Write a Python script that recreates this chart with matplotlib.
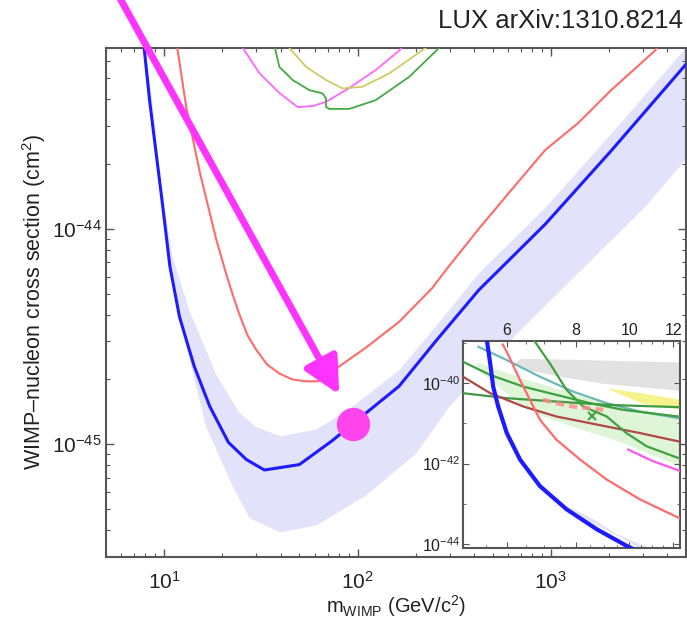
import matplotlib
matplotlib.use("Agg")
import matplotlib.pyplot as plt
from matplotlib.ticker import FixedLocator, FixedFormatter, NullFormatter, LogFormatterSciNotation

plt.rcParams['font.family'] = ['Liberation Sans', 'DejaVu Sans']
plt.rcParams['mathtext.fontset'] = 'custom'
plt.rcParams['mathtext.rm'] = 'Liberation Sans'
plt.rcParams['mathtext.it'] = 'Liberation Sans:italic'
plt.rcParams['mathtext.bf'] = 'Liberation Sans:bold'

# ---------------- main panel data (mass GeV, cross section cm^2) ----------------
lux_mass = [7.8, 8.4, 9.0, 9.7, 10.7, 12.0, 14.3, 17.2, 21.5, 26.6, 33, 50, 74, 95,
            164, 253, 424, 935, 2050, 5000]
lux_sigma = [7.5e-44, 3.95e-44, 2.4e-44, 1.4e-44, 6.7e-45, 3.9e-45, 2.3e-45, 1.5e-45,
             1.02e-45, 8.5e-46, 7.6e-46, 8.05e-46, 1.04e-45, 1.25e-45,
             1.86e-45, 3.0e-45, 5.2e-45, 1.05e-44, 2.3e-44, 5.8e-44]

band_up_mass = [7.8, 8.6, 9.5, 11, 13.6, 15.3, 18.6, 24.5, 30, 40, 61, 90, 164, 253,
                424, 935, 2050, 5000]
band_up_sigma = [8.2e-44, 4.2e-44, 1.75e-44, 7.5e-45, 4.1e-45, 3.2e-45, 2.1e-45, 1.4e-45,
                 1.2e-45, 1.09e-45, 1.17e-45, 1.45e-45, 2.2e-45, 3.5e-45,
                 6.2e-45, 1.25e-44, 2.75e-44, 6.9e-44]
band_lo_mass = [7.8, 8.4, 9.7, 10.7, 12, 13, 16.5, 22.6, 27.6, 40, 61, 111, 200, 300,
                680, 1390, 3070, 5000]
band_lo_sigma = [7.5e-44, 3.9e-44, 1.38e-44, 6.6e-45, 3.8e-45, 2.85e-45, 1.2e-45, 6.4e-46,
                 4.55e-46, 3.9e-46, 4.2e-46, 5.8e-46, 9.0e-46, 1.5e-45,
                 3.3e-45, 6.25e-45, 1.26e-44, 2.1e-44]

xe_mass = [11.4, 13.0, 15.3, 18.6, 20.9, 22.6, 24.5, 27.0, 29.9, 34.0, 39.4, 46.0, 54.2,
           62.0, 68.7, 80.4, 110, 164, 243, 285, 424, 627, 935, 1387, 2051, 3450, 3700]
xe_sigma = [8e-44, 3.68e-44, 1.82e-44, 8.9e-45, 6.2e-45, 4.95e-45, 4.0e-45, 3.2e-45,
            2.75e-45, 2.35e-45, 2.13e-45, 2.0e-45, 1.96e-45, 1.96e-45, 2.02e-45, 2.3e-45,
            2.8e-45, 3.7e-45, 5.3e-45, 6.4e-45, 1.0e-44, 1.52e-44, 2.32e-44, 3.1e-44,
            4.4e-44, 6.7e-44, 7.3e-44]

mag_mass = [24.5, 25.5, 31.1, 39.4, 49, 58.6, 68.7, 90.6, 124, 164, 175]
mag_sigma = [8e-44, 6.9e-44, 5.27e-44, 4.27e-44, 3.67e-44, 3.71e-44, 3.88e-44, 4.5e-44,
             5.45e-44, 6.7e-44, 7.2e-44]

grn_mass = [36, 39.4, 46.2, 56.3, 65.9, 68.7, 68.7, 71.4, 90.6, 124, 185, 264, 280]
grn_sigma = [8e-44, 5.64e-44, 4.9e-44, 4.4e-44, 4.25e-44, 4.03e-44, 3.68e-44, 3.6e-44,
             3.6e-44, 3.95e-44, 5.07e-44, 6.9e-44, 7.5e-44]

yel_mass = [43, 44.4, 54.2, 68.7, 83.6, 106, 146, 225, 240]
yel_sigma = [8e-44, 6.9e-44, 5.64e-44, 4.9e-44, 4.48e-44, 4.56e-44, 5.26e-44, 6.9e-44, 7.3e-44]

main_xticks = [10, 100, 1000]
main_yticks = [1e-45, 1e-44]

arrow_tip = (80.4, 1.7e-45)
dot_point = (94.6, 1.24e-45)

# ---------------- inset data (low mass) ----------------
in_lux_mass = [5.52, 5.60, 5.67, 5.79, 6.0, 6.34, 6.89, 7.70, 8.73, 9.88, 10.5]
in_lux_sigma = [1.2e-39, 3.06e-40, 8.1e-41, 2.6e-41, 5.73e-42, 1.26e-42, 2.75e-43, 7.3e-44,
                2.34e-44, 9.1e-45, 6e-45]
in_xe_mass = [5.9, 6.0, 6.34, 6.61, 6.89, 7.38, 8.14, 9.10, 10.45, 12.25, 12.5]
in_xe_sigma = [9e-40, 5.93e-40, 1.19e-40, 3.8e-41, 1.22e-41, 3.9e-42, 1.26e-42, 4.0e-43,
               1.29e-43, 4.56e-44, 4.1e-44]
in_teal_mass = [5.33, 6.0, 6.89, 7.91, 9.10, 10.45, 12.25]
in_teal_sigma = [7.9e-40, 3.7e-40, 1.43e-40, 6.1e-41, 3.15e-41, 1.95e-41, 1.34e-41]
in_g1_mass = [6.6, 6.75, 7.18, 7.70, 8.25, 9.10, 9.88, 10.75, 12.25, 12.5]
in_g1_sigma = [1.5e-39, 1.05e-39, 3.06e-40, 6.7e-41, 2.6e-41, 1.47e-41, 5.7e-42, 2.67e-42,
               1.38e-42, 1.25e-42]
in_g2_mass = [4.9, 5.0, 5.60, 6.43, 7.38, 8.49, 9.75, 12.25, 12.5]
in_g2_sigma = [3.8e-40, 3.36e-40, 1.58e-40, 8.1e-41, 5.06e-41, 3.15e-41, 2.15e-41, 1.47e-41,
               1.42e-41]
in_g3_mass = [4.9, 5.0, 6.0, 7.38, 9.10, 12.25, 12.5]
in_g3_sigma = [5.7e-41, 5.57e-41, 4.19e-41, 3.45e-41, 2.86e-41, 2.51e-41, 2.5e-41]
in_brown_mass = [4.9, 5.0, 5.60, 6.43, 7.38, 9.10, 10.45, 12.25, 12.5]
in_brown_sigma = [1.6e-40, 1.43e-40, 5.57e-41, 2.6e-41, 1.47e-41, 8.3e-42, 5.7e-42, 3.56e-42,
                  3.4e-42]
in_gband_mass = [5.3, 5.60, 6.43, 6.89, 7.91, 9.10, 9.75, 12.5]
in_gband_up = [3.3e-40, 2.52e-40, 1.3e-40, 9.8e-41, 5.5e-41, 3.15e-41, 2.6e-41, 1.4e-41]
in_gband_lo = [2.2e-40, 1.19e-40, 2.6e-41, 1.6e-41, 8.3e-42, 4.5e-42, 3.24e-42, 8.0e-43]
in_gray_mass = [6.2, 6.35, 7.0, 8.0, 8.85, 10.5, 12.5]
in_gray_up = [3.2e-40, 4.1e-40, 4.0e-40, 3.85e-40, 3.7e-40, 3.5e-40, 3.3e-40]
in_gray_lo = [3.2e-40, 2.3e-40, 1.75e-40, 1.25e-40, 1.0e-40, 8e-41, 6.5e-41]
in_yel_mass = [9.2, 10.5, 12.5]
in_yel_up = [7.4e-41, 5.7e-41, 3.8e-41]
in_yel_lo = [7.0e-41, 3.2e-41, 2.2e-41]
in_salmon_mass = [6.98, 7.5, 7.91, 8.97]
in_salmon_sigma = [3.8e-41, 3.0e-41, 2.6e-41, 2.15e-41]
in_mag_mass = [9.95, 11.04, 12.5]
in_mag_sigma = [2.22e-42, 1.14e-42, 6.2e-43]
in_x_point = (8.55, 1.53e-41)

in_xticks = [6, 8, 10, 12]
in_xticklabels = ['6', '8', '10', '12']
in_yticks = [1e-44, 1e-42, 1e-40]
in_yticklabels = [r'$10^{-44}$', r'$10^{-42}$', r'$10^{-40}$']

BLUE = '#1c1cff'
BAND = '#e2e2fa'
RED = '#ff6a6a'
SPINE = '#555555'

W, H = 687, 620
fig = plt.figure(figsize=(W / 100, H / 100), dpi=100)
ax = fig.add_axes([106 / W, 63 / H, 580 / W, 509 / H])

ax.set_xscale('log')
ax.set_yscale('log')

band_x = band_up_mass + band_lo_mass[::-1]
band_y = band_up_sigma + band_lo_sigma[::-1]
ax.fill(band_x, band_y, color=BAND, lw=0, zorder=1)
ax.plot(xe_mass, xe_sigma, color=RED, lw=1.5, zorder=3)
ax.plot(mag_mass, mag_sigma, color='#ff66ff', lw=1.3, zorder=3)
ax.plot(yel_mass, yel_sigma, color='#cfcc66', lw=1.3, zorder=3)
ax.plot(grn_mass, grn_sigma, color='#44aa44', lw=1.3, zorder=3)
ax.plot(lux_mass, lux_sigma, color=BLUE, lw=2.2, zorder=4)
ax.plot([dot_point[0]], [dot_point[1]], 'o', ms=24, color='#ff44ee', mec='none', zorder=6)

ax.set_xlim(5, 5000)
ax.set_ylim(3e-46, 6.9e-44)
ax.xaxis.set_major_locator(FixedLocator(main_xticks))
ax.yaxis.set_major_locator(FixedLocator(main_yticks))
ax.xaxis.set_major_formatter(LogFormatterSciNotation())
ax.yaxis.set_major_formatter(LogFormatterSciNotation())

ax.annotate('', xy=arrow_tip, xycoords='data', xytext=(0.1735, 1.005),
            textcoords='figure fraction', annotation_clip=False,
            arrowprops=dict(arrowstyle='-|>,head_length=1.1,head_width=0.55',
                            color='#ff33ff', lw=5, shrinkA=0, shrinkB=0,
                            mutation_scale=20), zorder=7)

for sp in ax.spines.values():
    sp.set_color(SPINE)
    sp.set_linewidth(1.5)
ax.tick_params(which='both', direction='in', top=True, right=True, colors=SPINE,
               labelcolor='#222222')
ax.tick_params(which='major', length=6, width=1)
ax.tick_params(which='minor', length=3, width=0.8, labelbottom=False, labelleft=False)
ax.tick_params(axis='x', which='major', labelsize=15, pad=10)
ax.tick_params(axis='y', which='major', labelsize=15, pad=3)
ax.xaxis.set_minor_formatter(NullFormatter())
ax.yaxis.set_minor_formatter(NullFormatter())

ax.set_xlabel(r'm$_{\rm WIMP}$ (GeV/c$^2$)', fontsize=14.5, color='#222222', labelpad=0)
ax.set_ylabel(r'WIMP–nucleon cross section (cm$^2$)', fontsize=15.5, color='#222222')
ax.yaxis.set_label_coords(-0.10, 0.5)

fig.text(683 / W, 1 - 21 / H, 'LUX arXiv:1310.8214', ha='right', va='center',
         fontsize=18.5, color='#222222')

# ---------------- inset ----------------
ins = fig.add_axes([463 / W, 72 / H, 217 / W, 207 / H])
ins.set_xscale('log')
ins.set_yscale('log')
ins.set_facecolor('white')
ins.fill_between(in_gray_mass, in_gray_lo, in_gray_up, color='#e2e2e2', lw=0, zorder=1)
ins.fill_between(in_yel_mass, in_yel_lo, in_yel_up, color='#f6f28c', lw=0, zorder=1)
ins.fill_between(in_gband_mass, in_gband_lo, in_gband_up, color='#dff5d8', lw=0, zorder=1)
ins.fill(band_x, band_y, color=BAND, lw=0, zorder=1)
ins.plot(in_teal_mass, in_teal_sigma, color='#6cb8b8', lw=1.6, zorder=3)
ins.plot(in_g2_mass, in_g2_sigma, color='#3fa03f', lw=1.6, zorder=3)
ins.plot(in_g3_mass, in_g3_sigma, color='#3f9a3f', lw=1.6, zorder=3)
ins.plot(in_brown_mass, in_brown_sigma, color='#b04848', lw=1.6, zorder=3)
ins.plot(in_g1_mass, in_g1_sigma, color='#3fa03f', lw=1.6, zorder=3)
ins.plot(in_salmon_mass, in_salmon_sigma, color='#ff8888', lw=3, ls=(0, (2, 1.2)),
         alpha=0.8, zorder=3)
ins.plot([in_x_point[0]], [in_x_point[1]], 'x', color='#3fa03f', ms=6, mew=1.5, zorder=4)
ins.plot(in_xe_mass, in_xe_sigma, color=RED, lw=1.6, zorder=4)
ins.plot(in_mag_mass, in_mag_sigma, color='#ff55ee', lw=1.6, zorder=4)
ins.plot(in_lux_mass, in_lux_sigma, color=BLUE, lw=3, zorder=5)
ins.set_xlim(5, 12.35)
ins.set_ylim(8e-45, 1.1e-39)

ins.xaxis.set_major_locator(FixedLocator(in_xticks))
ins.xaxis.set_major_formatter(FixedFormatter(in_xticklabels))
ins.xaxis.set_minor_locator(FixedLocator([5, 5.5, 6.5, 7, 7.5, 8.5, 9, 9.5, 10.5, 11, 11.5]))
ins.xaxis.set_minor_formatter(NullFormatter())
ins.yaxis.set_major_locator(FixedLocator(in_yticks))
ins.yaxis.set_major_formatter(FixedFormatter(in_yticklabels))
ins.yaxis.set_minor_locator(FixedLocator([1e-43, 1e-41, 1e-39]))
ins.yaxis.set_minor_formatter(NullFormatter())
ins.xaxis.tick_top()
for sp in ins.spines.values():
    sp.set_color(SPINE)
    sp.set_linewidth(1.5)
ins.tick_params(which='both', direction='in', top=True, bottom=True, left=True, right=True,
                colors=SPINE, labelcolor='#222222')
ins.tick_params(which='major', length=4, width=0.8, labelsize=11.5, pad=2)
ins.tick_params(which='minor', length=2.5, width=0.6, labeltop=False, labelleft=False)
ins.tick_params(axis='x', labeltop=True, labelbottom=False)
ins.tick_params(axis='x', which='minor', labeltop=False)

fig.savefig('out.png', dpi=100)
